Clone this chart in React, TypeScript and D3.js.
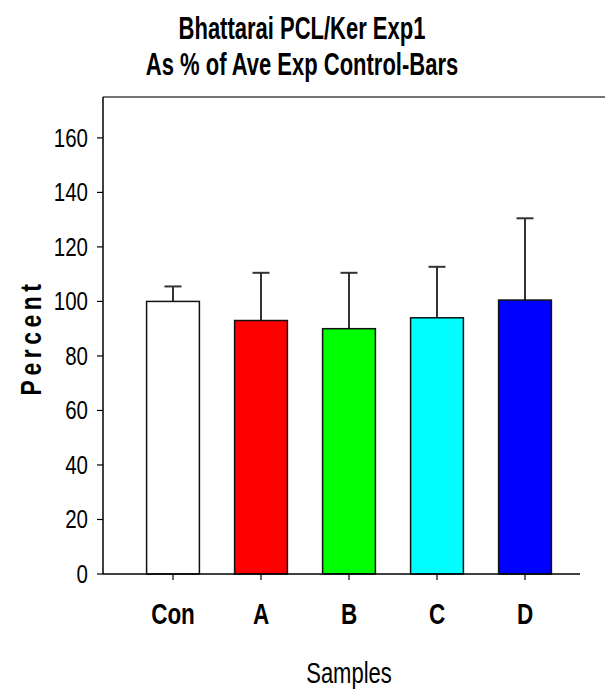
import React from "react";
import * as d3 from "d3";

const categories = ["Con", "A", "B", "C", "D"];
const values = [100, 93, 90, 94, 100.5];
const errors = [5.5, 17.5, 20.5, 18.7, 30];
const colors = ["#ffffff", "#ff0000", "#00ff00", "#00ffff", "#0000ff"];
const yTicks = [0, 20, 40, 60, 80, 100, 120, 140, 160];
const titleLines = ["Bhattarai PCL/Ker Exp1", "As % of Ave Exp Control-Bars"];

const W = 605;
const H = 690;
const left = 103;
const top = 97;
const bottom = 574;
const axisRight = 580;
const FONT = "'Liberation Sans', Arial, sans-serif";

export default function App() {
  const y = d3.scaleLinear().domain([0, 175]).range([bottom, top]);
  const x = d3
    .scaleBand<string>()
    .domain(categories)
    .range([129, 569])
    .paddingInner(0.4)
    .paddingOuter(0.2);
  const bw = x.bandwidth();
  const cap = 17;

  return (
    <svg width={W} height={H} style={{ position: "absolute", left: 0, top: 0, background: "#fff" }}>
      <rect x={0} y={0} width={W} height={H} fill="#fff" />
      {/* title */}
      {titleLines.map((t, i) => (
        <text
          key={i}
          transform={`translate(${302},${39 + i * 36}) scale(1,1.4)`}
          textAnchor="middle"
          fontFamily={FONT}
          fontWeight="bold"
          fontSize={22}
          fill="#000"
        >
          {t}
        </text>
      ))}
      {/* frame */}
      <line x1={left} y1={top} x2={W} y2={top} stroke="#444" strokeWidth={1.5} />
      <line x1={left} y1={top} x2={left} y2={bottom} stroke="#000" strokeWidth={1.5} />
      {/* bars */}
      {categories.map((c, i) => {
        const x0 = x(c)!;
        const cx = x0 + bw / 2;
        const yt = y(values[i]);
        const ye = y(values[i] + errors[i]);
        return (
          <g key={c}>
            <line x1={cx} y1={yt} x2={cx} y2={ye} stroke="#333" strokeWidth={2} />
            <line x1={cx - cap / 2} y1={ye} x2={cx + cap / 2} y2={ye} stroke="#333" strokeWidth={2} />
            <rect x={x0} y={yt} width={bw} height={bottom - yt} fill={colors[i]} stroke="#111" strokeWidth={1.5} />
          </g>
        );
      })}
      {/* x axis */}
      <line x1={left} y1={bottom} x2={axisRight} y2={bottom} stroke="#000" strokeWidth={1.5} />
      {categories.map((c) => {
        const cx = x(c)! + bw / 2;
        return (
          <g key={c}>
            <line x1={cx} y1={bottom} x2={cx} y2={bottom + 6} stroke="#000" strokeWidth={1.2} />
            <text
              transform={`translate(${cx},${624}) scale(1,1.35)`}
              textAnchor="middle"
              fontFamily={FONT}
              fontWeight="bold"
              fontSize={22.5}
            >
              {c}
            </text>
          </g>
        );
      })}
      {/* y axis ticks */}
      {yTicks.map((t) => (
        <g key={t}>
          <line x1={left - 6} y1={y(t)} x2={left} y2={y(t)} stroke="#000" strokeWidth={1.2} />
          <text
            transform={`translate(${88},${y(t) + 9}) scale(1,1.28)`}
            textAnchor="end"
            fontFamily={FONT}
            fontSize={20.5}
          >
            {t}
          </text>
        </g>
      ))}
      {/* axis labels */}
      <text
        transform={`translate(${41},${(top + bottom) / 2 + 2}) rotate(-90) scale(1,1.3)`}
        textAnchor="middle"
        fontFamily={FONT}
        fontWeight="bold"
        fontSize={23}
        letterSpacing={4.5}
      >
        Percent
      </text>
      <text
        transform={`translate(${349},${683}) scale(1,1.35)`}
        textAnchor="middle"
        fontFamily={FONT}
        fontSize={22}
      >
        Samples
      </text>
    </svg>
  );
}
